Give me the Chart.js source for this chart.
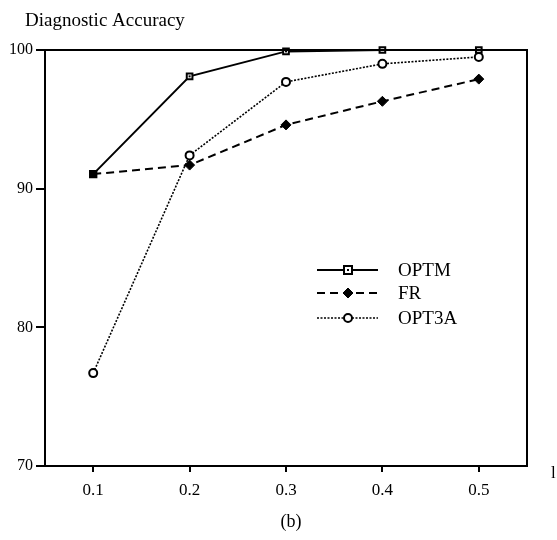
<!DOCTYPE html>
<html><head><meta charset="utf-8">
<script src="https://cdn.jsdelivr.net/npm/chart.js@4/dist/chart.umd.min.js"></script>
<style>html,body{margin:0;padding:0;background:#fff}#wrap{width:557px;height:540px}</style>
</head><body><div id="wrap"><canvas id="c" width="557" height="540"></canvas></div>
<script>
const xValues = [0.1, 0.2, 0.3, 0.4, 0.5];
const optm = [91.05, 98.1, 99.9, 100, 100];
const fr = [91.05, 91.7, 94.6, 96.3, 97.9];
const opt3a = [76.7, 92.4, 97.7, 99.0, 99.5];
const yTicks = [70, 80, 90, 100];
const seriesNames = ['OPTM', 'FR', 'OPT3A'];
const titleText = 'Diagnostic Accuracy';
const captionText = '(b)';

const FONT = '"Liberation Serif", "DejaVu Serif", serif';
const pts = arr => arr.map((v, i) => ({x: xValues[i], y: v}));

const styles = [
  {dash: [], width: 2, pointStyle: 'rect', radius: 4, bg: '#fff', bw: 2},
  {dash: [8, 5], width: 2, pointStyle: 'rectRot', radius: 5, bg: '#000', bw: 1},
  {dash: [2, 1.5], width: 1.6, pointStyle: 'circle', radius: 4, bg: '#fff', bw: 2}
];

const extras = {
  id: 'extras',
  afterDraw(chart) {
    const ctx = chart.ctx, a = chart.chartArea;
    ctx.save();
    ctx.strokeStyle = '#000'; ctx.lineWidth = 2;
    ctx.strokeRect(a.left, a.top, a.right - a.left, a.bottom - a.top);
    ctx.fillStyle = '#000';
    ctx.textBaseline = 'alphabetic'; ctx.textAlign = 'left';
    ctx.font = '19px ' + FONT;
    ctx.fillText(titleText, 25, 26);
    ctx.textAlign = 'center';
    ctx.font = '18px ' + FONT;
    ctx.fillText(captionText, 291, 527);
    ctx.textAlign = 'left';
    ctx.font = '17px ' + FONT;
    ctx.fillText('l', 551, 478);
    // legend
    const rows = [270, 293, 318];
    chart.data.datasets.forEach((ds, i) => {
      const s = styles[i], y = rows[i];
      ctx.save();
      ctx.setLineDash(s.dash); ctx.lineWidth = s.width; ctx.strokeStyle = '#000';
      ctx.beginPath(); ctx.moveTo(317, y); ctx.lineTo(378, y); ctx.stroke();
      ctx.restore();
      ctx.save();
      ctx.fillStyle = s.bg; ctx.strokeStyle = '#000'; ctx.lineWidth = s.bw;
      ctx.beginPath();
      const r = s.radius;
      if (s.pointStyle === 'rect') { ctx.rect(348 - r, y - r, 2 * r, 2 * r); }
      else if (s.pointStyle === 'rectRot') { ctx.moveTo(348, y - r); ctx.lineTo(348 + r, y); ctx.lineTo(348, y + r); ctx.lineTo(348 - r, y); ctx.closePath(); }
      else { ctx.arc(348, y, r, 0, Math.PI * 2); }
      ctx.fill(); ctx.stroke();
      if (s.pointStyle === 'rect') { ctx.fillStyle = '#000'; ctx.fillRect(347, y - 1, 2, 2); }
      ctx.restore();
      ctx.fillStyle = '#000'; ctx.font = '19px ' + FONT; ctx.textBaseline = 'middle';
      ctx.fillText(ds.label, 398, y + 1);
    });
    // center dots for OPTM markers
    const meta = chart.getDatasetMeta(0);
    meta.data.forEach((p, i) => { if (i > 0) { ctx.fillRect(p.x - 1, p.y - 1, 2, 2); } });
    ctx.restore();
  }
};

const datasets = [optm, fr, opt3a].map((arr, i) => {
  const s = styles[i];
  return {
    label: seriesNames[i], data: pts(arr),
    borderColor: '#000', borderWidth: s.width, borderDash: s.dash,
    pointStyle: s.pointStyle,
    pointRadius: i === 0 ? arr.map((v, k) => k === 0 ? 4.5 : s.radius) : (i === 1 ? arr.map((v, k) => k === 0 ? 0 : s.radius) : s.radius),
    pointBackgroundColor: i === 0 ? arr.map((v, k) => k === 0 ? '#000' : '#fff') : s.bg,
    pointBorderColor: '#000', pointBorderWidth: s.bw,
    tension: 0, fill: false, clip: false
  };
});

new Chart(document.getElementById('c'), {
  type: 'line',
  data: {datasets},
  options: {
    responsive: false, animation: false, devicePixelRatio: 1,
    layout: {padding: {left: 0, top: 50, right: 30, bottom: 0}},
    plugins: {legend: {display: false}, tooltip: {enabled: false}},
    scales: {
      x: {
        type: 'linear', min: 0.05, max: 0.55,
        afterBuildTicks: sc => { sc.ticks = xValues.map(v => ({value: v})); },
        afterFit: sc => { sc.height = 74; },
        ticks: {color: '#000', font: {family: FONT, size: 17}, padding: 8, maxRotation: 0,
          callback: v => v.toFixed(1)},
        grid: {drawOnChartArea: false, tickLength: 6, color: '#000', lineWidth: 2},
        border: {display: true, color: '#000', width: 2}
      },
      y: {
        min: 70, max: 100,
        afterBuildTicks: sc => { sc.ticks = yTicks.map(v => ({value: v})); },
        afterFit: sc => { sc.width = 45; },
        ticks: {color: '#000', font: {family: FONT, size: 16}, padding: 3},
        grid: {drawOnChartArea: false, tickLength: 9, color: '#000', lineWidth: 2},
        border: {display: true, color: '#000', width: 2}
      }
    }
  },
  plugins: [extras]
});
</script></body></html>
